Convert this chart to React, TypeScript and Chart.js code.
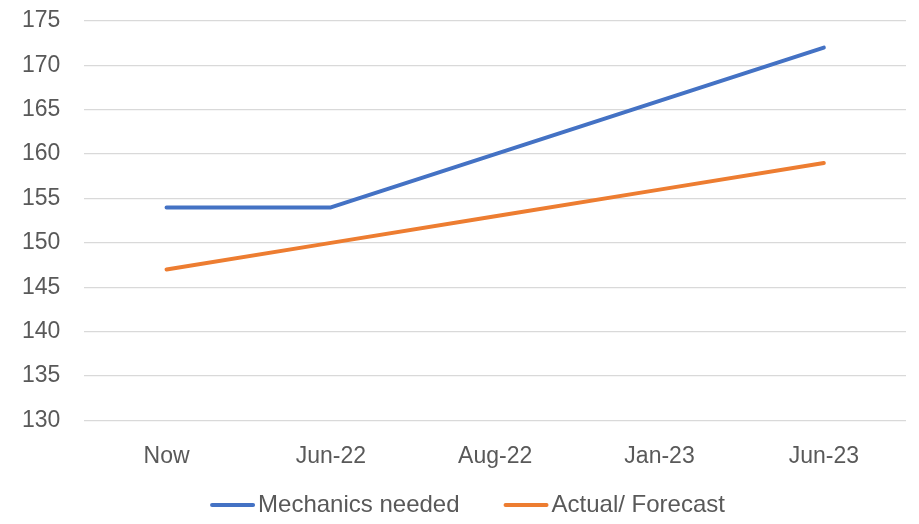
import React, { useEffect, useRef } from "react";
import { Chart, registerables } from "chart.js";

Chart.register(...registerables);

const categories = ["Now", "Jun-22", "Aug-22", "Jan-23", "Jun-23"];
const mechanicsNeeded = [154, 154, 160, 166, 172];
const actualForecast = [147, 150, 153, 156, 159];
const yMin = 130;
const yMax = 175;
const yStep = 5;

const FONT = "'Liberation Sans', Arial, sans-serif";
const FONT_SIZE = 23;
const LEGEND_FONT_SIZE = 24;
const TEXT = "#595959";

const bottomLegend = {
  id: "bottomLegend",
  afterDraw(chart: any) {
    const ctx = chart.ctx as CanvasRenderingContext2D;
    const sets = chart.data.datasets;
    const lineW = 45;
    const gapText = 3;
    const gapItem = 44;
    const y = 505;
    ctx.save();
    ctx.font = `${LEGEND_FONT_SIZE}px ${FONT}`;
    const widths = sets.map((d: any) => lineW + gapText + ctx.measureText(d.label).width);
    const total = widths.reduce((a: number, b: number) => a + b, 0) + gapItem * (sets.length - 1);
    let x = chart.width / 2 + 8 - total / 2;
    sets.forEach((d: any, i: number) => {
      ctx.strokeStyle = d.borderColor;
      ctx.lineWidth = 4;
      ctx.lineCap = "round";
      ctx.beginPath();
      ctx.moveTo(x + 2, y);
      ctx.lineTo(x + lineW - 2, y);
      ctx.stroke();
      ctx.fillStyle = TEXT;
      ctx.textBaseline = "middle";
      ctx.textAlign = "left";
      ctx.fillText(d.label, x + lineW + gapText, y);
      x += widths[i] + gapItem;
    });
    ctx.restore();
  },
};

export default function App() {
  const ref = useRef<HTMLCanvasElement | null>(null);
  useEffect(() => {
    if (!ref.current) return;
    const chart = new Chart(ref.current, {
      type: "line",
      data: {
        labels: categories,
        datasets: [
          {
            label: "Mechanics needed",
            data: mechanicsNeeded,
            borderColor: "#4472C4",
            backgroundColor: "#4472C4",
            borderWidth: 4,
            pointRadius: 0,
            borderCapStyle: "round",
            borderJoinStyle: "round",
            tension: 0,
          },
          {
            label: "Actual/ Forecast",
            data: actualForecast,
            borderColor: "#ED7D31",
            backgroundColor: "#ED7D31",
            borderWidth: 4,
            pointRadius: 0,
            borderCapStyle: "round",
            borderJoinStyle: "round",
            tension: 0,
          },
        ],
      },
      options: {
        animation: false,
        responsive: false,
        maintainAspectRatio: false,
        layout: { padding: { top: 0, right: 13, left: -2, bottom: 32 } },
        plugins: {
          tooltip: { enabled: false },
          legend: { display: false },
        },
        scales: {
          x: {
            offset: true,
            grid: { display: false, drawTicks: false },
            border: { display: false },
            ticks: {
              color: TEXT,
              font: { family: FONT, size: FONT_SIZE },
              padding: 22,
            },
          },
          y: {
            min: yMin,
            max: yMax,
            grid: { color: "#D9D9D9", lineWidth: 1.3, drawTicks: false },
            border: { display: false },
            afterFit(scale: any) {
              scale.paddingTop = 21;
            },
            ticks: {
              stepSize: yStep,
              color: TEXT,
              font: { family: FONT, size: FONT_SIZE },
              padding: 24,
            },
          },
        },
      },
      plugins: [bottomLegend],
    });
    return () => chart.destroy();
  }, []);
  return (
    <div style={{ position: "fixed", left: 0, top: 0, width: 919, height: 524, background: "#fff" }}>
      <canvas ref={ref} width={919} height={524} style={{ width: 919, height: 524 }} />
    </div>
  );
}
